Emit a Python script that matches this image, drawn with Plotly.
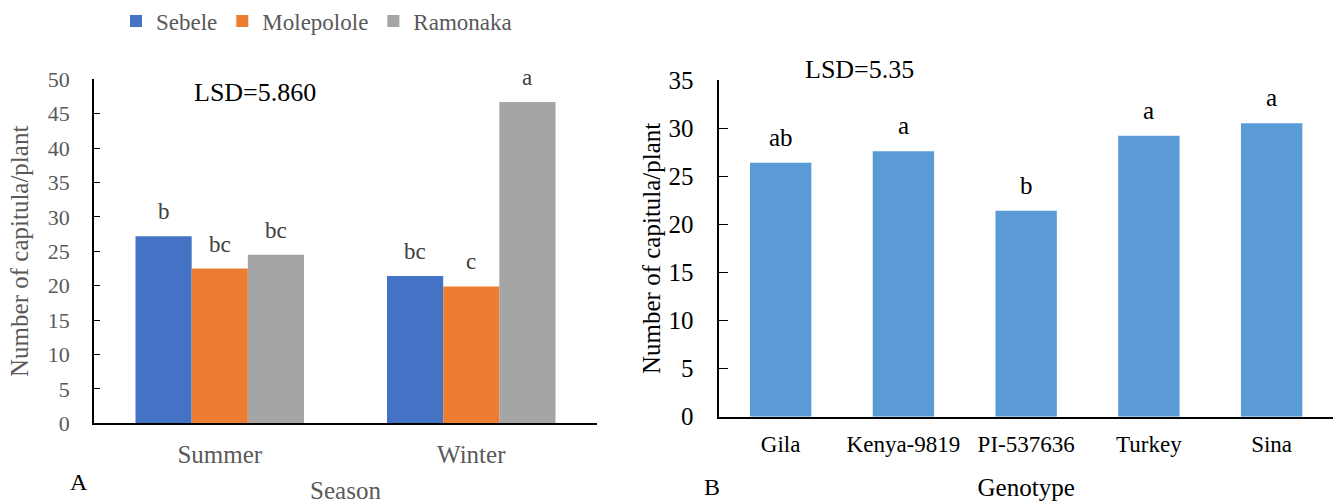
import plotly.graph_objects as go

# ---- Data ----
seasons = ["Summer", "Winter"]
locations = ["Sebele", "Molepolole", "Ramonaka"]
sebele = [27.2, 21.4]
molepolole = [22.5, 19.9]
ramonaka = [24.5, 46.7]
season_letters = [["b", "bc"], ["bc", "c"], ["bc", "a"]]
loc_colors = ["#4472C4", "#ED7D31", "#A5A5A5"]

genotypes = ["Gila", "Kenya-9819", "PI-537636", "Turkey", "Sina"]
geno_values = [26.4, 27.6, 21.4, 29.2, 30.5]
geno_letters = ["ab", "a", "b", "a", "a"]

left_ticks = [0, 5, 10, 15, 20, 25, 30, 35, 40, 45, 50]
right_ticks = [0, 5, 10, 15, 20, 25, 30, 35]

FONT = "Liberation Serif"
GRAY = "#595959"
BARGAP = 0.33

fig = go.Figure()
series_vals = [sebele, molepolole, ramonaka]
for name, vals, col in zip(locations, series_vals, loc_colors):
    fig.add_bar(x=seasons, y=vals, name=name, marker_color=col,
                marker_line_width=0, xaxis="x", yaxis="y")

fig.add_bar(x=genotypes, y=geno_values, marker_color="#5B9BD5", marker_line_width=0,
            width=0.5, showlegend=False, xaxis="x2", yaxis="y2")

annotations = []
# letters on left grouped bars
n = len(locations)
bw = (1 - BARGAP) / n
for i, (vals, lets) in enumerate(zip(series_vals, season_letters)):
    off = (i - (n - 1) / 2) * bw
    for j, (v, l) in enumerate(zip(vals, lets)):
        annotations.append(dict(x=j + off, y=v, xref="x", yref="y", text=l,
                                showarrow=False, yanchor="bottom", yshift=10,
                                font=dict(family=FONT, size=23, color="#404040")))
# letters on right bars
for g, v, l in zip(genotypes, geno_values, geno_letters):
    annotations.append(dict(x=g, y=v, xref="x2", yref="y2", text=l,
                            showarrow=False, yanchor="bottom", yshift=10,
                            font=dict(family=FONT, size=25, color="black")))

annotations += [
    dict(x=255 / 1341, y=1 - 92 / 504, xref="paper", yref="paper", text="LSD=5.860",
         showarrow=False, xanchor="center", yanchor="middle",
         font=dict(family=FONT, size=26, color="black")),
    dict(x=859 / 1341, y=1 - 70 / 504, xref="paper", yref="paper", text="LSD=5.35",
         showarrow=False, xanchor="center", yanchor="middle",
         font=dict(family=FONT, size=26, color="black")),
    dict(x=79 / 1341, y=1 - 482 / 504, xref="paper", yref="paper", text="A",
         showarrow=False, xanchor="center", yanchor="middle",
         font=dict(family=FONT, size=24, color="black")),
    dict(x=712 / 1341, y=1 - 487 / 504, xref="paper", yref="paper", text="B",
         showarrow=False, xanchor="center", yanchor="middle",
         font=dict(family=FONT, size=24, color="black")),
]

fig.update_layout(
    width=1341, height=504,
    margin=dict(l=0, r=0, t=0, b=0, autoexpand=False),
    paper_bgcolor="white", plot_bgcolor="white",
    barmode="group", bargap=BARGAP, bargroupgap=0,
    font=dict(family=FONT, color=GRAY),
    legend=dict(orientation="h", x=116 / 1341, xanchor="left", y=1 - 21 / 504,
                yanchor="middle", font=dict(family=FONT, size=23, color=GRAY),
                bgcolor="rgba(0,0,0,0)"),
    annotations=annotations,
    xaxis=dict(domain=[94 / 1341, 597 / 1341], anchor="y", automargin=False,
               showline=True, linecolor="black", linewidth=1.5,
               ticks="", showgrid=False,
               tickfont=dict(family=FONT, size=25, color=GRAY),
               ticklabelstandoff=8,
               title=dict(text="Season", standoff=16,
                          font=dict(family=FONT, size=25, color=GRAY))),
    yaxis=dict(domain=[1 - 423.3 / 504, 1 - 79.3 / 504], anchor="x", automargin=False,
               range=[0, 50], tickvals=left_ticks,
               showline=True, linecolor="black", linewidth=1.5,
               ticks="inside", ticklen=6, tickcolor="black", tickwidth=1.2,
               showgrid=False, zeroline=False,
               tickfont=dict(family=FONT, size=22, color=GRAY),
               ticklabelstandoff=18,
               title=dict(text="Number of capitula/plant", standoff=12,
                          font=dict(family=FONT, size=25, color=GRAY))),
    xaxis2=dict(domain=[719.3 / 1341, 1333 / 1341], anchor="y2", automargin=False,
                showline=True, linecolor="black", linewidth=1.5,
                ticks="", showgrid=False,
                tickfont=dict(family=FONT, size=23, color="black"),
                ticklabelstandoff=6,
                title=dict(text="Genotype", standoff=22,
                           font=dict(family=FONT, size=25, color="black"))),
    yaxis2=dict(domain=[1 - 416.7 / 504, 1 - 80 / 504], anchor="x2", automargin=False,
                range=[0, 35], tickvals=right_ticks,
                showline=True, linecolor="black", linewidth=1.5,
                ticks="inside", ticklen=9, tickcolor="black", tickwidth=1.2,
                showgrid=False, zeroline=False,
                tickfont=dict(family=FONT, size=25, color="black"),
                ticklabelstandoff=19,
                title=dict(text="Number of capitula/plant", standoff=1,
                           font=dict(family=FONT, size=25, color="black"))),
)

fig.write_html("out.html")
